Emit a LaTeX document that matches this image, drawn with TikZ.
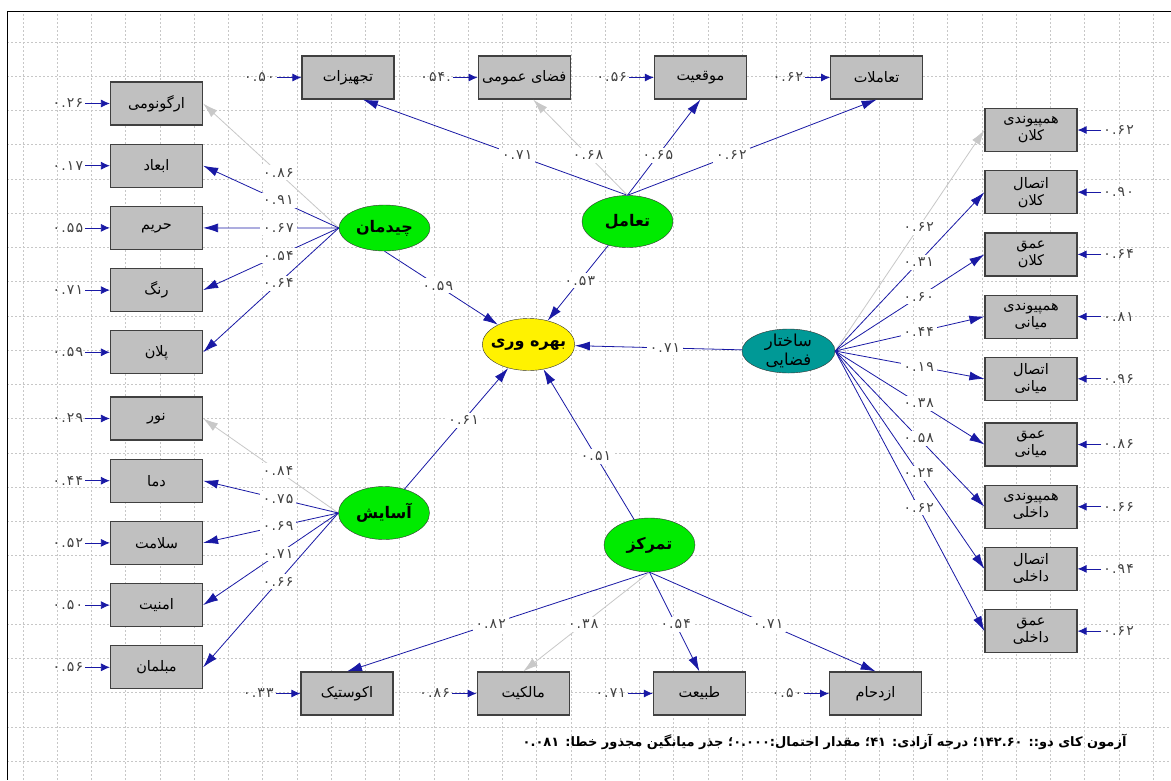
\documentclass[tikz,border=0pt]{standalone}
\usepackage{fontspec}
\usepackage{xcolor}
\usepackage{tikz}
\usetikzlibrary{shapes.geometric, arrows.meta, positioning}
\TeXXeTstate=1
\newfontfamily\arabicfont[Script=Arabic]{DejaVu Sans}
\newfontfamily\numfont[LetterSpace=8]{DejaVu Sans}
\newcommand{\fatxt}[1]{\beginR #1\endR}
\definecolor{lisblue}{RGB}{25,25,165}
\definecolor{boxgray}{RGB}{192,192,192}
\definecolor{latgreen}{RGB}{0,235,0}
\definecolor{latteal}{RGB}{0,153,150}
\definecolor{fixgray}{RGB}{200,200,200}

\begin{document}
\begin{tikzpicture}[
    x=1pt, y=-1pt,
    node distance=18pt and 83pt,
    obs/.style={draw=black!75, line width=1.2pt, fill=boxgray, minimum width=92pt, minimum height=43pt, inner sep=0pt, align=center, font=\arabicfont\fontsize{14.5}{17}\selectfont},
    lat/.style={draw=black!80, ellipse, fill=latgreen, minimum width=91pt, minimum height=52pt, inner sep=-5pt, align=center, font=\arabicfont\bfseries\fontsize{16}{18}\selectfont},
    err/.style={inner sep=2pt, text=black!75, font=\numfont\fontsize{14}{16}\selectfont},
    lbl/.style={fill=white, inner sep=3pt, text=black!75, font=\numfont\fontsize{14}{16}\selectfont},
    arrow/.style={draw=lisblue, line width=0.8pt, -{Latex[length=15pt,width=9pt]}},
    fixed/.style={draw=fixgray, line width=0.8pt, -{Latex[length=15pt,width=9pt]}},
    errarrow/.style={draw=lisblue, line width=0.8pt, -{Latex[length=9pt,width=8pt]}},
    gridline/.style={draw=black!22, line width=0.7pt, dash pattern=on 2pt off 2pt}
]
\useasboundingbox (0,0) rectangle (1171,780);
\fill[white] (0,0) rectangle (1171,780);

% background grid and frame
\draw[gridline, shift={(23,42)}] (-16,-31) grid[step=34.25pt] (1148,738);
\draw[line width=1pt] (1171,11) -- (7,11) -- (7,780);

% latent variables
\node (bahre) [lat, fill=yellow] at (528.5,344.5) {\fatxt{بهره وری}};
\node (chidman) [lat, minimum height=46pt] at (384.5,228) {\fatxt{چیدمان}};
\node (taamol) [lat] at (627.5,221.5) {\fatxt{تعامل}};
\node (asayesh) [lat, minimum height=53pt] at (384,513) {\fatxt{آسایش}};
\node (tamarkoz) [lat, minimum height=54pt] at (649.5,545) {\fatxt{تمرکز}};
\node (saxtar) [lat, fill=latteal, minimum width=93pt, minimum height=44pt, inner sep=-9pt, font=\arabicfont\fontsize{16.5}{19}\selectfont] at (788.5,351) {\fatxt{ساختار}\\\fatxt{فضایی}};

% left column
\node (ergo) [obs] at (156.5,103.5) {\fatxt{ارگونومی}};
\node (abad) [obs, below=of ergo] {\fatxt{ابعاد}};
\node (harim) [obs, below=of abad] {\fatxt{حریم}};
\node (rang) [obs, below=of harim] {\fatxt{رنگ}};
\node (plan) [obs, below=of rang] {\fatxt{پلان}};
\node (noor) [obs, below=22pt of plan] {\fatxt{نور}};
\node (dama) [obs, below=of noor] {\fatxt{دما}};
\node (salamat) [obs, below=of dama] {\fatxt{سلامت}};
\node (amniat) [obs, below=of salamat] {\fatxt{امنیت}};
\node (mobl) [obs, below=of amniat] {\fatxt{مبلمان}};

% top row
\node (tajhiz) [obs] at (348,77.5) {\fatxt{تجهیزات}};
\node (fazaumumi) [obs, right=of tajhiz] {\fatxt{فضای عمومی}};
\node (mowqe) [obs, right=of fazaumumi] {\fatxt{موقعیت}};
\node (taamolat) [obs, right=of mowqe] {\fatxt{تعاملات}};

% right column
\node (hamkalan) [obs] at (1031,130) {\fatxt{همپیوندی}\\\fatxt{کلان}};
\node (etkalan) [obs, below=of hamkalan] {\fatxt{اتصال}\\\fatxt{کلان}};
\node (omkalan) [obs, below=of etkalan] {\fatxt{عمق}\\\fatxt{کلان}};
\node (hammiani) [obs, below=of omkalan] {\fatxt{همپیوندی}\\\fatxt{میانی}};
\node (etmiani) [obs, below=of hammiani] {\fatxt{اتصال}\\\fatxt{میانی}};
\node (ommiani) [obs, below=21.5pt of etmiani] {\fatxt{عمق}\\\fatxt{میانی}};
\node (hamdakheli) [obs, below=of ommiani] {\fatxt{همپیوندی}\\\fatxt{داخلی}};
\node (etdakheli) [obs, below=of hamdakheli] {\fatxt{اتصال}\\\fatxt{داخلی}};
\node (omdakheli) [obs, below=of etdakheli] {\fatxt{عمق}\\\fatxt{داخلی}};

% bottom row
\node (acoustic) [obs] at (347,693.5) {\fatxt{اکوستیک}};
\node (malekiat) [obs, right=of acoustic] {\fatxt{مالکیت}};
\node (tabiat) [obs, right=of malekiat] {\fatxt{طبیعت}};
\node (ezdeham) [obs, right=of tabiat] {\fatxt{ازدحام}};

% error terms
\node (eergo) [err] at ([xshift=-42pt]ergo.west) {۰.۲۶};
\node (eabad) [err] at ([xshift=-42pt]abad.west) {۰.۱۷};
\node (eharim) [err] at ([xshift=-42pt]harim.west) {۰.۵۵};
\node (erang) [err] at ([xshift=-42pt]rang.west) {۰.۷۱};
\node (eplan) [err] at ([xshift=-42pt]plan.west) {۰.۵۹};
\node (enoor) [err] at ([xshift=-42pt]noor.west) {۰.۲۹};
\node (edama) [err] at ([xshift=-42pt]dama.west) {۰.۴۴};
\node (esalamat) [err] at ([xshift=-42pt]salamat.west) {۰.۵۲};
\node (eamniat) [err] at ([xshift=-42pt]amniat.west) {۰.۵۰};
\node (emobl) [err] at ([xshift=-42pt]mobl.west) {۰.۵۶};
\node (etajhiz) [err] at ([xshift=-42pt]tajhiz.west) {۰.۵۰};
\node (efazaumumi) [err] at ([xshift=-42pt]fazaumumi.west) {۰۵۴.};
\node (emowqe) [err] at ([xshift=-42pt]mowqe.west) {۰.۵۶};
\node (etaamolat) [err] at ([xshift=-42pt]taamolat.west) {۰.۶۲};
\node (eacoustic) [err] at ([xshift=-42pt]acoustic.west) {۰.۳۳};
\node (emalekiat) [err] at ([xshift=-42pt]malekiat.west) {۰.۸۶};
\node (etabiat) [err] at ([xshift=-42pt]tabiat.west) {۰.۷۱};
\node (eezdeham) [err] at ([xshift=-42pt]ezdeham.west) {۰.۵۰};
\node (ehamkalan) [err] at ([xshift=41pt]hamkalan.east) {۰.۶۲};
\node (eetkalan) [err] at ([xshift=41pt]etkalan.east) {۰.۹۰};
\node (eomkalan) [err] at ([xshift=41pt]omkalan.east) {۰.۶۴};
\node (ehammiani) [err] at ([xshift=41pt]hammiani.east) {۰.۸۱};
\node (eetmiani) [err] at ([xshift=41pt]etmiani.east) {۰.۹۶};
\node (eommiani) [err] at ([xshift=41pt]ommiani.east) {۰.۸۶};
\node (ehamdakheli) [err] at ([xshift=41pt]hamdakheli.east) {۰.۶۶};
\node (eetdakheli) [err] at ([xshift=41pt]etdakheli.east) {۰.۹۴};
\node (eomdakheli) [err] at ([xshift=41pt]omdakheli.east) {۰.۶۲};

\draw[errarrow] (eergo) -- (ergo);
\draw[errarrow] (eabad) -- (abad);
\draw[errarrow] (eharim) -- (harim);
\draw[errarrow] (erang) -- (rang);
\draw[errarrow] (eplan) -- (plan);
\draw[errarrow] (enoor) -- (noor);
\draw[errarrow] (edama) -- (dama);
\draw[errarrow] (esalamat) -- (salamat);
\draw[errarrow] (eamniat) -- (amniat);
\draw[errarrow] (emobl) -- (mobl);
\draw[errarrow] (etajhiz) -- (tajhiz);
\draw[errarrow] (efazaumumi) -- (fazaumumi);
\draw[errarrow] (emowqe) -- (mowqe);
\draw[errarrow] (etaamolat) -- (taamolat);
\draw[errarrow] (eacoustic) -- (acoustic);
\draw[errarrow] (emalekiat) -- (malekiat);
\draw[errarrow] (etabiat) -- (tabiat);
\draw[errarrow] (eezdeham) -- (ezdeham);
\draw[errarrow] (ehamkalan) -- (hamkalan);
\draw[errarrow] (eetkalan) -- (etkalan);
\draw[errarrow] (eomkalan) -- (omkalan);
\draw[errarrow] (ehammiani) -- (hammiani);
\draw[errarrow] (eetmiani) -- (etmiani);
\draw[errarrow] (eommiani) -- (ommiani);
\draw[errarrow] (ehamdakheli) -- (hamdakheli);
\draw[errarrow] (eetdakheli) -- (etdakheli);
\draw[errarrow] (eomdakheli) -- (omdakheli);

% loadings
\draw[fixed] (chidman.west) -- node[lbl, pos=0.445] {۰.۸۶} (ergo.east);
\draw[arrow] (chidman.west) -- node[lbl, pos=0.445] {۰.۹۱} (abad.east);
\draw[arrow] (chidman.west) -- node[lbl, pos=0.445] {۰.۶۷} (harim.east);
\draw[arrow] (chidman.west) -- node[lbl, pos=0.445] {۰.۵۴} (rang.east);
\draw[arrow] (chidman.west) -- node[lbl, pos=0.445] {۰.۶۴} (plan.east);

\draw[fixed] (asayesh.west) -- node[lbl, pos=0.445] {۰.۸۴} (noor.east);
\draw[arrow] (asayesh.west) -- node[lbl, pos=0.445] {۰.۷۵} (dama.east);
\draw[arrow] (asayesh.west) -- node[lbl, pos=0.445] {۰.۶۹} (salamat.east);
\draw[arrow] (asayesh.west) -- node[lbl, pos=0.445] {۰.۷۱} (amniat.east);
\draw[arrow] (asayesh.west) -- node[lbl, pos=0.445] {۰.۶۶} (mobl.east);

\draw[arrow] (taamol.north) -- node[lbl, pos=0.417] {۰.۷۱} ([xshift=15pt]tajhiz.south);
\draw[fixed] (taamol.north) -- node[lbl, pos=0.417] {۰.۶۸} ([xshift=9pt]fazaumumi.south);
\draw[arrow] (taamol.north) -- node[lbl, pos=0.417] {۰.۶۵} (mowqe.south);
\draw[arrow] (taamol.north) -- node[lbl, pos=0.417] {۰.۶۲} (taamolat.south);

\draw[arrow] (tamarkoz.south) -- node[lbl, pos=0.525] {۰.۸۲} (acoustic.north);
\draw[fixed] (tamarkoz.south) -- node[lbl, pos=0.525] {۰.۳۸} (malekiat.north);
\draw[arrow] (tamarkoz.south) -- node[lbl, pos=0.525] {۰.۵۴} (tabiat.north);
\draw[arrow] (tamarkoz.south) -- node[lbl, pos=0.525] {۰.۷۱} (ezdeham.north);

\draw[fixed] (saxtar.east) -- node[lbl, pos=0.56] {۰.۶۲} (hamkalan.west);
\draw[arrow] (saxtar.east) -- node[lbl, pos=0.56] {۰.۳۱} (etkalan.west);
\draw[arrow] (saxtar.east) -- node[lbl, pos=0.56] {۰.۶۰} (omkalan.west);
\draw[arrow] (saxtar.east) -- node[lbl, pos=0.56] {۰.۴۴} (hammiani.west);
\draw[arrow] (saxtar.east) -- node[lbl, pos=0.56] {۰.۱۹} (etmiani.west);
\draw[arrow] (saxtar.east) -- node[lbl, pos=0.56] {۰.۳۸} (ommiani.west);
\draw[arrow] (saxtar.east) -- node[lbl, pos=0.56] {۰.۵۸} (hamdakheli.west);
\draw[arrow] (saxtar.east) -- node[lbl, pos=0.56] {۰.۲۴} (etdakheli.west);
\draw[arrow] (saxtar.east) -- node[lbl, pos=0.56] {۰.۶۲} (omdakheli.west);

% structural paths
\draw[arrow] (chidman.south) -- node[lbl, pos=0.47] {۰.۵۹} (bahre);
\draw[arrow] (taamol) -- node[lbl, pos=0.47] {۰.۵۳} (bahre);
\draw[arrow] (saxtar) -- node[lbl, pos=0.46] {۰.۷۱} (bahre);
\draw[arrow] (asayesh) -- node[lbl, pos=0.57] {۰.۶۱} (bahre);
\draw[arrow] (tamarkoz) -- node[lbl, pos=0.42] {۰.۵۱} (bahre);

\node (stats) [anchor=east, font=\arabicfont\bfseries\fontsize{13}{15}\selectfont] at (1130,742) {\fatxt{آزمون کای دو:: \beginL ۱۴۲.۶۰\endL{}؛ درجه آزادی: \beginL ۴۱\endL{}؛ مقدار احتمال:\beginL ۰.۰۰۰\endL{}؛ جذر میانگین مجذور خطا: \beginL ۰.۰۸۱\endL{}}};

\end{tikzpicture}
\end{document}
